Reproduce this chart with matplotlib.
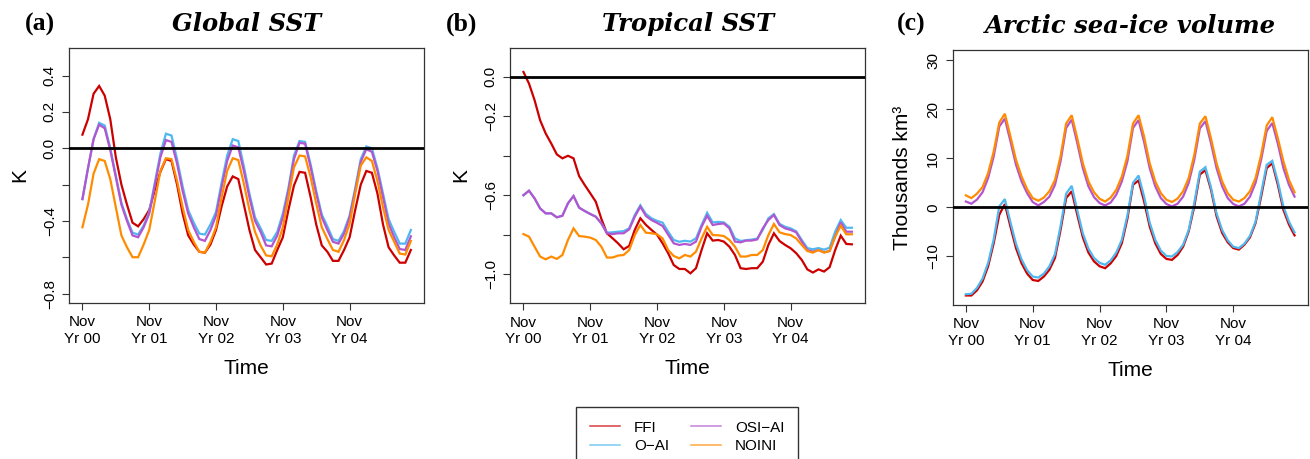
import numpy as np
import matplotlib
matplotlib.use("Agg")
import matplotlib.pyplot as plt
from matplotlib.lines import Line2D

# monthly means, Nov Yr 00 .. Oct Yr 05
xticklabels = ["Nov\nYr 00", "Nov\nYr 01", "Nov\nYr 02", "Nov\nYr 03", "Nov\nYr 04"]

# Global SST anomaly (K)
gsst_ffi = [0.075, 0.16, 0.30, 0.343, 0.29, 0.16, -0.05, -0.2, -0.31, -0.41,
            -0.43, -0.39, -0.34, -0.23, -0.13, -0.06, -0.07, -0.2, -0.36, -0.48,
            -0.53, -0.57, -0.575, -0.53, -0.45, -0.32, -0.21, -0.155, -0.17, -0.31,
            -0.45, -0.56, -0.60, -0.64, -0.635, -0.56, -0.49, -0.34, -0.205, -0.13,
            -0.135, -0.27, -0.42, -0.535, -0.57, -0.62, -0.62, -0.56, -0.49, -0.34,
            -0.2, -0.125, -0.135, -0.25, -0.42, -0.545, -0.59, -0.63, -0.63, -0.56]
gsst_oai = [-0.28, -0.11, 0.05, 0.14, 0.125, 0.0, -0.15, -0.30, -0.39, -0.465,
            -0.475, -0.425, -0.35, -0.19, -0.03, 0.08, 0.07, -0.06, -0.21, -0.34,
            -0.41, -0.47, -0.475, -0.42, -0.35, -0.19, -0.04, 0.05, 0.04, -0.10,
            -0.25, -0.38, -0.44, -0.505, -0.51, -0.46, -0.36, -0.22, -0.04, 0.04,
            0.035, -0.09, -0.235, -0.365, -0.43, -0.50, -0.51, -0.455, -0.37, -0.22,
            -0.06, 0.01, 0.0, -0.11, -0.25, -0.39, -0.46, -0.525, -0.525, -0.45]
gsst_osi = [-0.28, -0.11, 0.05, 0.13, 0.11, -0.01, -0.16, -0.31, -0.40, -0.48,
            -0.49, -0.435, -0.36, -0.205, -0.05, 0.045, 0.035, -0.085, -0.235, -0.36,
            -0.435, -0.5, -0.51, -0.45, -0.37, -0.215, -0.07, 0.015, 0.005, -0.125,
            -0.27, -0.40, -0.46, -0.535, -0.54, -0.48, -0.38, -0.235, -0.06, 0.03,
            0.025, -0.105, -0.25, -0.38, -0.45, -0.515, -0.525, -0.47, -0.38, -0.235,
            -0.075, -0.005, -0.02, -0.125, -0.27, -0.415, -0.49, -0.555, -0.56, -0.485]
gsst_noini = [-0.435, -0.31, -0.14, -0.06, -0.07, -0.17, -0.325, -0.48, -0.545, -0.60,
              -0.60, -0.53, -0.45, -0.29, -0.125, -0.055, -0.06, -0.18, -0.325, -0.45,
              -0.515, -0.57, -0.575, -0.515, -0.435, -0.27, -0.125, -0.055, -0.065, -0.195,
              -0.34, -0.46, -0.535, -0.59, -0.595, -0.53, -0.435, -0.27, -0.105, -0.04,
              -0.045, -0.16, -0.305, -0.435, -0.5, -0.56, -0.57, -0.505, -0.415, -0.25,
              -0.095, -0.05, -0.07, -0.18, -0.325, -0.45, -0.515, -0.58, -0.585, -0.51]

# Tropical SST anomaly (K)
tsst_ffi = [0.025, -0.034, -0.118, -0.22, -0.287, -0.338, -0.393, -0.413, -0.40, -0.413,
            -0.503, -0.548, -0.59, -0.633, -0.72, -0.793, -0.818, -0.844, -0.874, -0.857,
            -0.776, -0.717, -0.75, -0.776, -0.80, -0.844, -0.894, -0.954, -0.974, -0.974,
            -0.996, -0.97, -0.878, -0.793, -0.83, -0.827, -0.835, -0.861, -0.903, -0.97,
            -0.974, -0.97, -0.97, -0.937, -0.852, -0.793, -0.832, -0.852, -0.869, -0.894,
            -0.928, -0.976, -0.992, -0.976, -0.987, -0.965, -0.878, -0.805, -0.847, -0.849]
tsst_oai = [-0.60, -0.577, -0.616, -0.667, -0.692, -0.692, -0.712, -0.704, -0.641, -0.604,
            -0.663, -0.68, -0.695, -0.709, -0.743, -0.79, -0.788, -0.785, -0.782, -0.768,
            -0.70, -0.651, -0.695, -0.717, -0.73, -0.739, -0.785, -0.827, -0.836, -0.831,
            -0.835, -0.819, -0.751, -0.689, -0.738, -0.735, -0.738, -0.76, -0.819, -0.832,
            -0.828, -0.825, -0.82, -0.776, -0.717, -0.696, -0.745, -0.76, -0.768, -0.783,
            -0.827, -0.868, -0.874, -0.868, -0.876, -0.866, -0.785, -0.726, -0.765, -0.765]
tsst_osi = [-0.60, -0.577, -0.616, -0.667, -0.692, -0.692, -0.712, -0.704, -0.641, -0.604,
            -0.663, -0.68, -0.695, -0.709, -0.743, -0.793, -0.797, -0.793, -0.793, -0.773,
            -0.709, -0.658, -0.705, -0.726, -0.74, -0.756, -0.80, -0.844, -0.852, -0.847,
            -0.852, -0.835, -0.76, -0.704, -0.751, -0.746, -0.743, -0.768, -0.835, -0.839,
            -0.83, -0.83, -0.824, -0.768, -0.726, -0.70, -0.751, -0.768, -0.776, -0.788,
            -0.835, -0.878, -0.886, -0.878, -0.889, -0.883, -0.81, -0.738, -0.785, -0.785]
tsst_noini = [-0.797, -0.81, -0.861, -0.911, -0.925, -0.911, -0.923, -0.903, -0.827, -0.768,
              -0.807, -0.81, -0.815, -0.827, -0.861, -0.916, -0.916, -0.906, -0.903, -0.878,
              -0.802, -0.751, -0.79, -0.793, -0.798, -0.819, -0.878, -0.908, -0.92, -0.903,
              -0.911, -0.886, -0.819, -0.76, -0.802, -0.803, -0.807, -0.827, -0.861, -0.911,
              -0.911, -0.903, -0.903, -0.878, -0.802, -0.746, -0.788, -0.797, -0.802, -0.819,
              -0.852, -0.883, -0.891, -0.878, -0.891, -0.883, -0.81, -0.755, -0.798, -0.798]

# Arctic sea-ice volume anomaly (thousands km3)
ice_ffi = [-17.96, -17.96, -16.9, -15.1, -12.0, -7.3, -1.5, 0.7, -3.9, -8.3,
           -11.4, -13.5, -14.8, -15.0, -14.1, -12.7, -10.3, -4.6, 1.9, 3.3,
           -1.5, -6.1, -9.2, -11.0, -12.0, -12.4, -11.4, -9.9, -7.3, -2.3,
           4.6, 5.5, 1.2, -3.9, -7.3, -9.5, -10.5, -10.7, -9.7, -8.0,
           -4.9, 0.2, 6.7, 7.6, 3.6, -1.8, -5.2, -7.1, -8.3, -8.6,
           -7.6, -6.1, -3.2, 2.2, 8.0, 9.0, 4.6, -0.5, -3.5, -5.7]
ice_oai = [-17.7, -17.6, -16.4, -14.5, -11.3, -6.5, 0.2, 1.7, -3.0, -7.4,
           -10.6, -12.8, -14.1, -14.3, -13.5, -12.0, -9.5, -3.8, 2.8, 4.4,
           -0.6, -5.3, -8.4, -10.3, -11.3, -11.7, -10.8, -9.2, -6.6, -1.6,
           5.0, 6.5, 2.2, -3.1, -6.6, -8.8, -9.9, -10.0, -9.1, -7.6,
           -4.6, 0.9, 7.3, 8.2, 4.1, -1.2, -4.6, -6.7, -8.0, -8.3,
           -7.4, -5.8, -2.9, 2.9, 8.7, 9.5, 5.3, 0.2, -2.9, -5.1]
ice_osi = [1.2, 0.75, 1.6, 3.1, 6.0, 10.4, 16.5, 18.1, 13.5, 8.7,
           5.3, 2.9, 1.1, 0.4, 1.1, 2.2, 4.6, 9.4, 16.2, 17.9,
           13.1, 8.0, 4.3, 2.1, 0.9, 0.4, 1.0, 2.6, 5.3, 9.4,
           16.2, 17.8, 13.3, 8.0, 4.3, 1.9, 0.7, 0.2, 0.75, 2.2,
           5.0, 9.7, 16.1, 17.6, 13.1, 8.0, 4.3, 1.9, 0.7, 0.2,
           0.75, 2.2, 5.0, 9.7, 15.6, 17.2, 13.0, 8.0, 4.6, 2.2]
ice_noini = [2.45, 1.9, 2.8, 4.15, 7.0, 11.4, 17.3, 19.1, 14.5, 9.7,
             6.3, 3.7, 1.9, 1.36, 2.0, 3.3, 5.6, 10.4, 17.1, 18.8,
             14.1, 9.0, 5.3, 3.1, 1.77, 1.2, 2.0, 3.6, 6.3, 10.5,
             17.1, 18.8, 14.4, 9.0, 5.3, 2.9, 1.56, 1.1, 1.8, 3.3,
             6.0, 10.7, 17.1, 18.6, 14.1, 9.0, 5.3, 2.9, 1.56, 1.2,
             1.9, 3.3, 6.0, 10.7, 16.7, 18.4, 14.1, 9.4, 5.6, 3.1]

exp_names = ["FFI", "O\u2212AI", "OSI\u2212AI", "NOINI"]
exp_colors = ["#CD0000", "#4FB8F0", "#B455D0", "#FF8C00"]

months = np.arange(len(gsst_ffi))

plt.rcParams["font.family"] = ["Liberation Sans", "DejaVu Sans"]

fig = plt.figure(figsize=(13.1, 4.59), dpi=100)
W, H = 1310.0, 459.0


def add_panel(left, top, right, bottom):
    return fig.add_axes([left / W, 1 - bottom / H, (right - left) / W, (bottom - top) / H])


panels = [
    dict(ax=add_panel(69.3, 48, 424, 303), series=[gsst_ffi, gsst_oai, gsst_osi, gsst_noini],
         title="Global SST", tag="(a)", tagx=25, ylabel="K",
         ylim=(-0.852, 0.552), yticks=[0.4, 0.2, 0.0, -0.2, -0.4, -0.6, -0.8],
         yticklabels=["0.4", "0.2", "0.0", "", "\u22120.4", "", "\u22120.8"]),
    dict(ax=add_panel(510.3, 47.7, 865, 303.3), series=[tsst_ffi, tsst_oai, tsst_osi, tsst_noini],
         title="Tropical SST", tag="(b)", tagx=446, ylabel="K",
         ylim=(-1.148, 0.148), yticks=[0.0, -0.2, -0.4, -0.6, -0.8, -1.0],
         yticklabels=["0.0", "\u22120.2", "", "\u22120.6", "", "\u22121.0"]),
    dict(ax=add_panel(952.7, 50, 1307.7, 305), series=[ice_ffi, ice_oai, ice_osi, ice_noini],
         title="Arctic sea-ice volume", tag="(c)", tagx=897, ylabel="Thousands km\u00b3",
         ylim=(-19.9, 32.1), yticks=[30, 20, 10, 0, -10],
         yticklabels=["30", "20", "10", "0", "\u221210"]),
]

for p in panels:
    ax = p["ax"]
    for vals, col in zip(p["series"], exp_colors):
        ax.plot(months, vals, color=col, lw=1.6, solid_joinstyle="miter")
    ax.axhline(0, color="black", lw=2.0, zorder=5)

    ax.set_xlim(-2.36, 61.36)
    ax.set_ylim(*p["ylim"])
    ax.set_xticks(months[::12])
    ax.set_xticklabels(xticklabels, fontsize=11)
    ax.set_yticks(p["yticks"])
    ax.set_yticklabels(p["yticklabels"], fontsize=11, rotation=90, va="center")
    ax.tick_params(axis="both", length=5, width=0.8, color="#333333")
    ax.tick_params(axis="x", pad=4)
    ax.tick_params(axis="y", pad=4)
    for s in ax.spines.values():
        s.set_color("#333333")
        s.set_linewidth(0.9)

    ax.set_xlabel("Time", fontsize=15)
    ax.xaxis.set_label_coords(0.5, -65 / 255.0)
    ax.xaxis.label.set_va("center")
    ax.set_ylabel(p["ylabel"], fontsize=15)
    ax.yaxis.set_label_coords(-50 / 355.0, 0.5)
    ax.yaxis.label.set_va("center")

    ax.set_title(p["title"], family="DejaVu Serif", style="italic", weight="bold",
                 fontsize=17.5, pad=12)
    fig.text(p["tagx"] / W, 1 - 31 / H, p["tag"], family="Liberation Serif",
             weight="bold", fontsize=18.5, ha="left", va="baseline")

handles = [Line2D([], [], color=c, lw=1.1, alpha=0.75) for c in exp_colors]
fig.legend(handles, exp_names, ncol=2, loc="upper left",
           bbox_to_anchor=(576 / W, 1 - 407 / H), fontsize=11,
           frameon=True, fancybox=False, edgecolor="#333333", framealpha=1,
           handlelength=2.0, handletextpad=0.9, columnspacing=1.4,
           labelspacing=0.3, borderpad=0.9, borderaxespad=0)

fig.savefig("out.png", dpi=100, facecolor="white")
